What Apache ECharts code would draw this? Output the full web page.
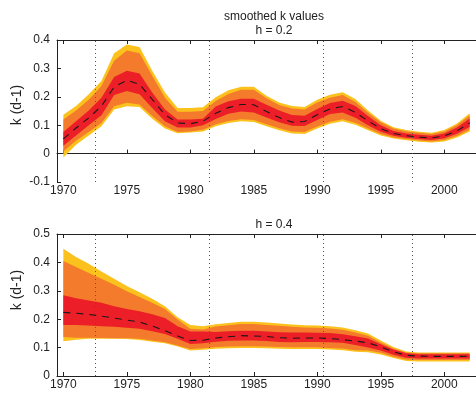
<!DOCTYPE html>
<html>
<head>
<meta charset="utf-8">
<script src="https://cdn.jsdelivr.net/npm/echarts@6/dist/echarts.min.js"></script>
<style>
  html, body { margin: 0; padding: 0; background: #fff; }
  #chart { width: 476px; height: 396px; }
</style>
</head>
<body>
<div id="chart"></div>
<script>
const years = [1970, 1971, 1972, 1973, 1974, 1975, 1976, 1977, 1978, 1979, 1980,
  1981, 1982, 1983, 1984, 1985, 1986, 1987, 1988, 1989, 1990, 1991, 1992,
  1993, 1994, 1995, 1996, 1997, 1998, 1999, 2000, 2001, 2002];
const xTicks = [1970, 1975, 1980, 1985, 1990, 1995, 2000];
const breakYears = [1972.5, 1981.5, 1990.5, 1997.5];

// h = 0.2
const topMedian = [0.052, 0.090, 0.126, 0.167, 0.235, 0.258, 0.244, 0.191, 0.137, 0.108, 0.105,
  0.114, 0.142, 0.162, 0.173, 0.172, 0.148, 0.127, 0.111, 0.113, 0.137, 0.157, 0.166,
  0.145, 0.115, 0.088, 0.071, 0.063, 0.058, 0.055, 0.062, 0.080, 0.108];
const topRedHi = [0.076, 0.114, 0.152, 0.197, 0.270, 0.292, 0.282, 0.215, 0.155, 0.120, 0.120,
  0.123, 0.166, 0.184, 0.193, 0.193, 0.172, 0.152, 0.136, 0.133, 0.157, 0.178, 0.186,
  0.168, 0.132, 0.100, 0.080, 0.071, 0.066, 0.063, 0.071, 0.092, 0.124];
const topRedLo = [0.028, 0.064, 0.100, 0.135, 0.206, 0.220, 0.209, 0.161, 0.114, 0.092, 0.092,
  0.100, 0.122, 0.140, 0.148, 0.145, 0.127, 0.110, 0.098, 0.097, 0.118, 0.139, 0.145,
  0.126, 0.100, 0.077, 0.063, 0.056, 0.051, 0.048, 0.054, 0.070, 0.094];
const topOrangeHi = [0.120, 0.152, 0.190, 0.238, 0.327, 0.363, 0.353, 0.274, 0.197, 0.147, 0.147,
  0.150, 0.185, 0.210, 0.225, 0.225, 0.195, 0.171, 0.159, 0.155, 0.180, 0.197, 0.206,
  0.182, 0.144, 0.110, 0.088, 0.078, 0.073, 0.069, 0.078, 0.100, 0.134];
const topOrangeLo = [0.007, 0.045, 0.076, 0.108, 0.167, 0.179, 0.173, 0.132, 0.096, 0.076, 0.078,
  0.084, 0.103, 0.115, 0.121, 0.118, 0.103, 0.089, 0.078, 0.076, 0.095, 0.112, 0.121,
  0.109, 0.088, 0.069, 0.057, 0.051, 0.046, 0.043, 0.048, 0.062, 0.084];
const topYellowHi = [0.137, 0.168, 0.209, 0.256, 0.353, 0.384, 0.375, 0.292, 0.215, 0.161, 0.161,
  0.163, 0.198, 0.223, 0.235, 0.235, 0.204, 0.180, 0.168, 0.164, 0.190, 0.207, 0.216,
  0.192, 0.152, 0.116, 0.093, 0.083, 0.077, 0.073, 0.083, 0.106, 0.142];
const topYellowLo = [-0.014, 0.031, 0.064, 0.096, 0.155, 0.167, 0.164, 0.123, 0.088, 0.072, 0.074,
  0.078, 0.096, 0.108, 0.114, 0.111, 0.096, 0.082, 0.071, 0.069, 0.088, 0.105, 0.114,
  0.102, 0.082, 0.064, 0.053, 0.047, 0.042, 0.039, 0.043, 0.057, 0.078];

// h = 0.4
const botMedian = [0.224, 0.221, 0.217, 0.211, 0.204, 0.197, 0.190, 0.176, 0.160, 0.141, 0.125,
  0.126, 0.134, 0.138, 0.142, 0.141, 0.139, 0.135, 0.133, 0.134, 0.134, 0.132, 0.128,
  0.123, 0.117, 0.102, 0.085, 0.073, 0.070, 0.069, 0.069, 0.069, 0.070];
const botRedHi = [0.284, 0.274, 0.266, 0.258, 0.246, 0.236, 0.228, 0.217, 0.204, 0.175, 0.157,
  0.157, 0.155, 0.158, 0.159, 0.159, 0.157, 0.154, 0.153, 0.153, 0.152, 0.151, 0.147,
  0.140, 0.132, 0.112, 0.093, 0.080, 0.077, 0.077, 0.077, 0.077, 0.077];
const botRedLo = [0.180, 0.180, 0.178, 0.175, 0.173, 0.170, 0.166, 0.158, 0.148, 0.131, 0.113,
  0.115, 0.121, 0.124, 0.125, 0.125, 0.123, 0.120, 0.119, 0.120, 0.120, 0.119, 0.117,
  0.109, 0.100, 0.090, 0.075, 0.064, 0.062, 0.062, 0.062, 0.062, 0.062];
const botOrangeHi = [0.405, 0.384, 0.363, 0.342, 0.321, 0.298, 0.278, 0.258, 0.236, 0.199, 0.166,
  0.164, 0.174, 0.179, 0.183, 0.183, 0.180, 0.177, 0.173, 0.171, 0.170, 0.167, 0.163,
  0.153, 0.142, 0.118, 0.097, 0.083, 0.080, 0.080, 0.080, 0.080, 0.080];
const botOrangeLo = [0.137, 0.135, 0.135, 0.134, 0.133, 0.133, 0.131, 0.125, 0.119, 0.107, 0.095,
  0.098, 0.102, 0.104, 0.105, 0.105, 0.104, 0.102, 0.101, 0.101, 0.101, 0.099, 0.097,
  0.091, 0.090, 0.082, 0.068, 0.058, 0.056, 0.056, 0.056, 0.056, 0.056];
const botYellowHi = [0.448, 0.419, 0.395, 0.368, 0.342, 0.317, 0.295, 0.272, 0.246, 0.207, 0.180,
  0.175, 0.182, 0.187, 0.191, 0.191, 0.188, 0.185, 0.181, 0.179, 0.178, 0.175, 0.171,
  0.161, 0.150, 0.125, 0.102, 0.086, 0.083, 0.083, 0.083, 0.083, 0.083];
const botYellowLo = [0.122, 0.128, 0.131, 0.131, 0.131, 0.130, 0.127, 0.121, 0.115, 0.104, 0.090,
  0.092, 0.096, 0.098, 0.099, 0.099, 0.098, 0.096, 0.095, 0.095, 0.095, 0.093, 0.091,
  0.085, 0.084, 0.076, 0.063, 0.053, 0.051, 0.051, 0.051, 0.051, 0.051];

const YELLOW = '#fbc21d';
const ORANGE = '#f47a2c';
const RED = '#ec1e27';
const AXIS = '#222';
const FONT = 'Liberation Sans, Arial, sans-serif';

// one filled polygon per band, drawn once through the axis scales
function band(lo, hi, color, idx) {
  return {
    type: 'custom', xAxisIndex: idx * 2, yAxisIndex: idx, silent: true,
    data: years.map((y, i) => [y, lo[i], hi[i]]),
    encode: { x: 0, y: [1, 2] },
    clip: true,
    renderItem: function (params, api) {
      if (params.dataIndex !== 0) return null;
      const top = years.map((y, i) => api.coord([y, hi[i]]));
      const bottom = years.map((y, i) => api.coord([y, lo[i]])).reverse();
      return {
        type: 'polygon',
        shape: { points: top.concat(bottom) },
        style: { fill: color, stroke: null }
      };
    }
  };
}

function median(vals, idx) {
  return {
    type: 'line', xAxisIndex: idx * 2, yAxisIndex: idx,
    data: years.map((y, i) => [y, vals[i]]), symbol: 'none', smooth: false, silent: true, z: 5,
    lineStyle: { color: '#1a1a1a', width: 1.1, type: [7, 6] },
    markLine: {
      silent: true, symbol: 'none', label: { show: false },
      lineStyle: { color: '#555', width: 1, type: [1, 3] },
      data: breakYears.map(x => ({ xAxis: x }))
    }
  };
}

function xAxes(idx) {
  const base = {
    type: 'value', gridIndex: idx, min: 1969.5, max: 2002.5,
    splitLine: { show: false },
    axisLine: { lineStyle: { color: AXIS, width: 1 } },
    axisTick: { inside: true, length: 4, customValues: xTicks, lineStyle: { color: AXIS } }
  };
  return [
    Object.assign({}, base, {
      position: 'bottom',
      axisLabel: {
        customValues: xTicks, margin: 3, color: AXIS, fontSize: 12, fontFamily: FONT,
        formatter: v => String(v)
      }
    }),
    Object.assign({}, base, { position: 'top', axisLabel: { show: false } })
  ];
}

function yAxis(idx, min, max) {
  return {
    type: 'value', gridIndex: idx, min: min, max: max, interval: 0.1,
    splitLine: { show: false },
    axisLine: { show: true, lineStyle: { color: AXIS, width: 1 } },
    axisTick: { show: true, inside: true, length: 4, lineStyle: { color: AXIS } },
    axisLabel: { margin: 7, color: AXIS, fontSize: 12, fontFamily: FONT }
  };
}

function yName(cy) {
  return {
    type: 'text', x: 17, y: cy, rotation: Math.PI / 2, silent: true,
    style: {
      text: 'k (d-1)', fill: AXIS, font: '14px ' + FONT,
      align: 'center', verticalAlign: 'middle'
    }
  };
}

const chart = echarts.init(document.getElementById('chart'), null, { renderer: 'canvas' });
chart.setOption({
  animation: false,
  backgroundColor: '#fff',
  title: [
    {
      text: 'smoothed k values\nh = 0.2', left: 269, top: 5, textAlign: 'center',
      textStyle: { fontSize: 12, fontWeight: 'normal', color: AXIS, fontFamily: FONT, lineHeight: 14 }
    },
    {
      text: 'h = 0.4', left: 269, top: 213, textAlign: 'center',
      textStyle: { fontSize: 12, fontWeight: 'normal', color: AXIS, fontFamily: FONT, lineHeight: 14 }
    }
  ],
  graphic: [yName(105), yName(290)],
  grid: [
    { left: 57, right: -6, top: 40, height: 142 },
    { left: 57, right: -6, top: 234, height: 142 }
  ],
  xAxis: [].concat(xAxes(0), xAxes(1)),
  yAxis: [yAxis(0, -0.1, 0.4), yAxis(1, 0, 0.5)],
  series: [
    band(topYellowLo, topYellowHi, YELLOW, 0),
    band(topOrangeLo, topOrangeHi, ORANGE, 0),
    band(topRedLo, topRedHi, RED, 0),
    median(topMedian, 0),
    band(botYellowLo, botYellowHi, YELLOW, 1),
    band(botOrangeLo, botOrangeHi, ORANGE, 1),
    band(botRedLo, botRedHi, RED, 1),
    median(botMedian, 1)
  ]
});
</script>
</body>
</html>
